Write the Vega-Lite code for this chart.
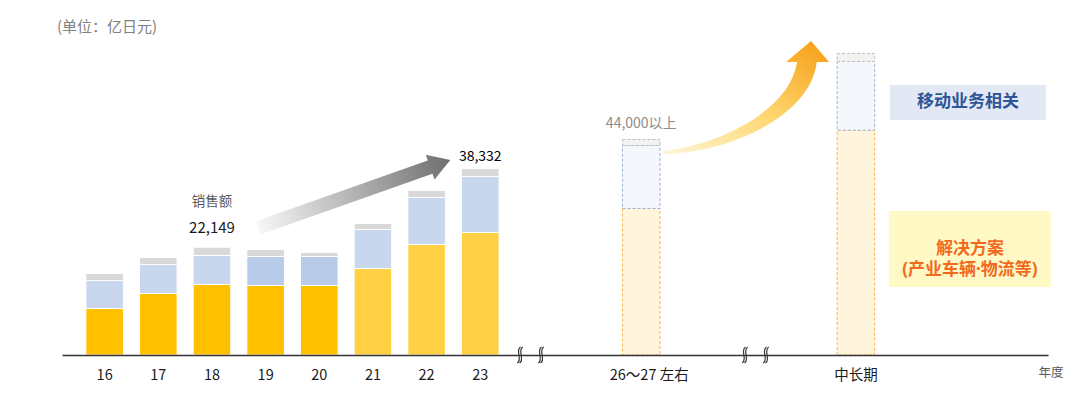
{
  "$schema": "https://vega.github.io/schema/vega-lite/v6.json",
  "width": 986,
  "height": 315,
  "autosize": {"type": "none"},
  "padding": {"left": 62, "top": 40, "right": 32, "bottom": 43},
  "background": "white",
  "config": {"view": {"stroke": null}, "font": "Noto Sans CJK SC"},
  "title": {"text": "(单位：亿日元)", "anchor": "start", "frame": "group", "fontSize": 15, "fontWeight": "normal", "color": "#808080", "dx": -5, "dy": 16, "offset": 6, "baseline": "bottom", "font": "Noto Sans CJK SC"},
  "datasets": {
    "sales": [
      {"cat": "16", "seg": "解决方案", "kind": "解决方案·16-20", "value": 9556},
      {"cat": "16", "seg": "移动业务相关", "kind": "移动业务相关·16-18", "value": 5754},
      {"cat": "16", "seg": "其他", "kind": "其他", "value": 1439},
      {"cat": "17", "seg": "解决方案", "kind": "解决方案·16-20", "value": 12640},
      {"cat": "17", "seg": "移动业务相关", "kind": "移动业务相关·16-18", "value": 5960},
      {"cat": "17", "seg": "其他", "kind": "其他", "value": 1439},
      {"cat": "18", "seg": "解决方案", "kind": "解决方案·16-20", "value": 14489},
      {"cat": "18", "seg": "移动业务相关", "kind": "移动业务相关·16-18", "value": 5960},
      {"cat": "18", "seg": "其他", "kind": "其他", "value": 1700},
      {"cat": "19", "seg": "解决方案", "kind": "解决方案·16-20", "value": 14282},
      {"cat": "19", "seg": "移动业务相关", "kind": "移动业务相关·19-20", "value": 5960},
      {"cat": "19", "seg": "其他", "kind": "其他", "value": 1439},
      {"cat": "20", "seg": "解决方案", "kind": "解决方案·16-20", "value": 14282},
      {"cat": "20", "seg": "移动业务相关", "kind": "移动业务相关·19-20", "value": 5960},
      {"cat": "20", "seg": "其他", "kind": "其他", "value": 822},
      {"cat": "21", "seg": "解决方案", "kind": "解决方案·21-23", "value": 17776},
      {"cat": "21", "seg": "移动业务相关", "kind": "移动业务相关·21-23", "value": 8015},
      {"cat": "21", "seg": "其他", "kind": "其他", "value": 1233},
      {"cat": "22", "seg": "解决方案", "kind": "解决方案·21-23", "value": 22708},
      {"cat": "22", "seg": "移动业务相关", "kind": "移动业务相关·21-23", "value": 9658},
      {"cat": "22", "seg": "其他", "kind": "其他", "value": 1439},
      {"cat": "23", "seg": "解决方案", "kind": "解决方案·21-23", "value": 25174},
      {"cat": "23", "seg": "移动业务相关", "kind": "移动业务相关·21-23", "value": 11508},
      {"cat": "23", "seg": "其他", "kind": "其他", "value": 1650},
      {"cat": "26～27 左右", "seg": "解决方案", "kind": "解决方案·目标", "value": 30100},
      {"cat": "26～27 左右", "seg": "移动业务相关", "kind": "移动业务相关·目标", "value": 12950},
      {"cat": "26～27 左右", "seg": "其他", "kind": "其他·目标", "value": 1233},
      {"cat": "中长期", "seg": "解决方案", "kind": "解决方案·目标", "value": 46200},
      {"cat": "中长期", "seg": "移动业务相关", "kind": "移动业务相关·目标", "value": 14120},
      {"cat": "中长期", "seg": "其他", "kind": "其他·目标", "value": 1644}
    ]
  },
  "encoding": {
    "x": {
      "field": "cat",
      "type": "nominal",
      "sort": null,
      "scale": {
        "domain": ["16", "17", "18", "19", "20", "21", "22", "23", "_1", "_2", "26～27 左右", "_3", "_4", "_5", "中长期", "_6", "_7", "_8"],
        "paddingInner": 0.3,
        "paddingOuter": 0.3375,
        "align": 0.659,
        "round": false
      },
      "axis": {
        "title": "年度",
        "titleFontSize": 12.5,
        "titleColor": "#595959",
        "titleFontWeight": "normal",
        "titleX": 1001,
        "titleY": 17,
        "titleAlign": "right",
        "titleBaseline": "middle",
        "titleAngle": 0,
        "labelExpr": "indexof(datum.label, '_') === 0 ? '' : datum.label",
        "labelAngle": 0,
        "labelFontSize": 14.5,
        "labelColor": "#1a1a1a",
        "labelPadding": 13,
        "labelOffset": {"condition": {"test": "datum.value === '26～27 左右'", "value": 8}, "value": 0},
        "ticks": false,
        "tickSize": 0,
        "domainColor": "#333333",
        "domainWidth": 1.5,
        "zindex": 2,
        "grid": false
      }
    }
  },
  "layer": [
    {
      "data": {"name": "sales"},
      "mark": {"type": "bar", "strokeWidth": 1},
      "encoding": {
        "y": {"field": "value", "type": "quantitative", "stack": "zero", "scale": {"domain": [0, 64730], "nice": false}, "axis": null},
        "color": {
          "field": "kind",
          "type": "nominal",
          "scale": {
            "domain": ["解决方案·16-20", "解决方案·21-23", "解决方案·目标", "移动业务相关·16-18", "移动业务相关·19-20", "移动业务相关·21-23", "移动业务相关·目标", "其他", "其他·目标"],
            "range": ["#FFC000", "#FFD044", "#FFF5DC", "#C9D7EE", "#B8CBE8", "#C9D7EE", "#F5F7FC", "#D9D9D9", "#F2F2F2"]
          },
          "legend": null
        },
        "stroke": {
          "field": "kind",
          "type": "nominal",
          "scale": {
            "domain": ["解决方案·16-20", "解决方案·21-23", "解决方案·目标", "移动业务相关·16-18", "移动业务相关·19-20", "移动业务相关·21-23", "移动业务相关·目标", "其他", "其他·目标"],
            "range": ["#FFFFFF", "#FFFFFF", "#F5B64E", "#FFFFFF", "#FFFFFF", "#FFFFFF", "#9CB2D2", "#FFFFFF", "#BFBFBF"]
          },
          "legend": null
        },
        "strokeDash": {
          "condition": {"test": "indexof(datum.kind, '目标') >= 0", "value": [3, 2]},
          "value": [4, 0]
        },
        "order": {"field": "seg", "type": "nominal", "sort": "descending"}
      }
    },
    {
      "data": {"values": [{"cat": "20", "value": 33086, "note": "增长"}]},
      "mark": {
        "type": "point",
        "shape": "M -1 -0.069 L 0.79 -0.069 L 0.79 -0.13 L 1 0 L 0.79 0.13 L 0.79 0.069 L -1 0.069 Z",
        "size": 41500,
        "angle": 340.5,
        "xOffset": 35,
        "filled": true,
        "opacity": 1,
        "strokeWidth": 0,
        "fill": {"gradient": "linear", "x1": 0, "y1": 0, "x2": 1, "y2": 0, "stops": [{"offset": 0, "color": "#F7F7F7"}, {"offset": 1, "color": "#6E6E6E"}]}
      },
      "encoding": {"y": {"field": "value", "type": "quantitative"}}
    },
    {
      "data": {"values": [{"cat": "_4", "value": 52916, "note": "增长"}]},
      "mark": {
        "type": "point",
        "shape": "M -1 0.641 C -0.317 0.569 0.521 0.15 0.605 -0.425 L 0.473 -0.425 L 0.772 -0.677 L 0.988 -0.425 L 0.84 -0.425 C 0.77 0.22 -0.198 0.66 -1 0.68 Z",
        "size": 27889,
        "xOffset": -2,
        "filled": true,
        "opacity": 1,
        "strokeWidth": 0,
        "fill": {"gradient": "linear", "x1": 0, "y1": 1, "x2": 1, "y2": 0, "stops": [{"offset": 0, "color": "#FFF6D8"}, {"offset": 0.5, "color": "#FDD66E"}, {"offset": 1, "color": "#F79B12"}]}
      },
      "encoding": {"y": {"field": "value", "type": "quantitative"}}
    },
    {
      "data": {"values": [{"cat": "中长期", "value": 51889, "label": "移动业务相关"}]},
      "mark": {"type": "point", "shape": "M -1 -0.2258 L 1 -0.2258 L 1 0.2258 L -1 0.2258 Z", "size": 24336, "xOffset": 112, "filled": true, "opacity": 1, "strokeWidth": 0, "fill": "#E2E9F4"},
      "encoding": {"y": {"field": "value", "type": "quantitative"}}
    },
    {
      "data": {"values": [{"cat": "中长期", "value": 51889, "label": "移动业务相关"}]},
      "mark": {"type": "text", "xOffset": 112, "fontSize": 17, "fontWeight": "bold", "color": "#2F5597", "baseline": "middle", "align": "center", "font": "Noto Sans CJK SC"},
      "encoding": {"y": {"field": "value", "type": "quantitative"}, "text": {"field": "label"}}
    },
    {
      "data": {"values": [{"cat": "中长期", "value": 21783, "label": "解决方案\n(产业车辆·物流等)"}]},
      "mark": {"type": "point", "shape": "M -1 -0.469 L 1 -0.469 L 1 0.469 L -1 0.469 Z", "size": 26244, "xOffset": 114, "filled": true, "opacity": 1, "strokeWidth": 0, "fill": "#FFF9C6"},
      "encoding": {"y": {"field": "value", "type": "quantitative"}}
    },
    {
      "data": {"values": [{"cat": "中长期", "value": 21783, "label": "解决方案\n(产业车辆·物流等)"}]},
      "mark": {"type": "text", "xOffset": 114, "fontSize": 17, "fontWeight": "bold", "color": "#F26A1E", "baseline": "middle", "align": "center", "lineBreak": "\n", "lineHeight": 21, "font": "Noto Sans, Noto Sans CJK SC"},
      "encoding": {"y": {"field": "value", "type": "quantitative"}, "text": {"field": "label"}}
    },
    {
      "data": {"name": "sales"},
      "transform": [{"filter": "datum.cat === '18'"}, {"aggregate": [{"op": "sum", "field": "value", "as": "total"}], "groupby": ["cat"]}],
      "mark": {"type": "text", "dy": -45, "fontSize": 13.5, "color": "#595959", "baseline": "middle", "align": "center"},
      "encoding": {"y": {"field": "total", "type": "quantitative"}, "text": {"value": "销售额"}}
    },
    {
      "data": {"name": "sales"},
      "transform": [{"filter": "datum.cat === '18'"}, {"aggregate": [{"op": "sum", "field": "value", "as": "total"}], "groupby": ["cat"]}],
      "mark": {"type": "text", "dy": -19, "fontSize": 15, "color": "#1a1a1a", "baseline": "middle", "align": "center"},
      "encoding": {"y": {"field": "total", "type": "quantitative"}, "text": {"field": "total", "type": "quantitative", "format": ","}}
    },
    {
      "data": {"name": "sales"},
      "transform": [{"filter": "datum.cat === '23'"}, {"aggregate": [{"op": "sum", "field": "value", "as": "total"}], "groupby": ["cat"]}],
      "mark": {"type": "text", "dy": -11, "fontSize": 14, "color": "#000000", "baseline": "middle", "align": "center"},
      "encoding": {"y": {"field": "total", "type": "quantitative"}, "text": {"field": "total", "type": "quantitative", "format": ","}}
    },
    {
      "data": {"name": "sales"},
      "transform": [{"filter": "datum.cat === '26～27 左右'"}, {"aggregate": [{"op": "sum", "field": "value", "as": "total"}], "groupby": ["cat"]}],
      "mark": {"type": "text", "dy": -16, "fontSize": 14, "color": "#8C8C8C", "baseline": "middle", "align": "center"},
      "encoding": {"y": {"field": "total", "type": "quantitative"}, "text": {"value": "44,000以上"}}
    },
    {
      "data": {"values": [{"cat": "_1", "brk": "断轴"}]},
      "mark": {
        "type": "point",
        "shape": "M -0.626 -0.5 C -0.976 -0.3 -0.476 0.3 -0.826 0.5 M -0.486 -0.5 C -0.836 -0.3 -0.336 0.3 -0.686 0.5 M 0.686 -0.5 C 0.336 -0.3 0.836 0.3 0.486 0.5 M 0.826 -0.5 C 0.476 -0.3 0.976 0.3 0.626 0.5",
        "size": 1024,
        "xOffset": -3.4,
        "filled": false,
        "color": "#333333",
        "strokeWidth": 1.2,
        "opacity": 1
      },
      "encoding": {"y": {"datum": 0, "type": "quantitative"}}
    },
    {
      "data": {"values": [{"cat": "_4", "brk": "断轴"}]},
      "mark": {
        "type": "point",
        "shape": "M -0.626 -0.5 C -0.976 -0.3 -0.476 0.3 -0.826 0.5 M -0.486 -0.5 C -0.836 -0.3 -0.336 0.3 -0.686 0.5 M 0.686 -0.5 C 0.336 -0.3 0.836 0.3 0.486 0.5 M 0.826 -0.5 C 0.476 -0.3 0.976 0.3 0.626 0.5",
        "size": 1024,
        "xOffset": 6.9,
        "filled": false,
        "color": "#333333",
        "strokeWidth": 1.2,
        "opacity": 1
      },
      "encoding": {"y": {"datum": 0, "type": "quantitative"}}
    }
  ]
}
